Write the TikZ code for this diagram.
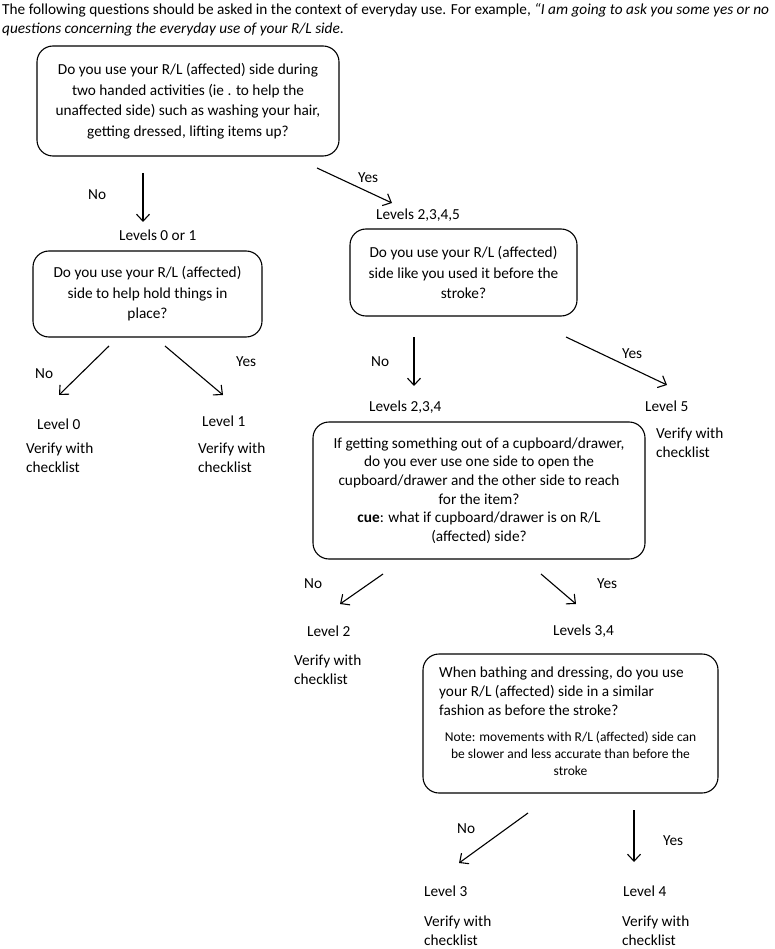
\documentclass[tikz,border=0pt]{standalone}
\usepackage{fontspec}
\setmainfont{Carlito}
\usetikzlibrary{arrows.meta}
\newcommand{\bxfont}{\fontsize{15.3pt}{20.5pt}\selectfont}
\newcommand{\bxfontb}{\fontsize{15.3pt}{18.6pt}\selectfont}
\newcommand{\nofont}{\fontsize{13.5pt}{17pt}\selectfont}
\newcommand{\lbfont}{\fontsize{15.3pt}{19pt}\selectfont}
\tikzset{
  qbox/.style={draw, line width=1.1pt, rounded corners=16pt, align=center, inner sep=0pt},
  lbl/.style={anchor=west, inner sep=0pt, text height=10pt, text depth=0pt, font=\lbfont},
  arr/.style={line width=1.1pt, -{Straight Barb[length=7pt,width=13pt,line width=1.1pt]}}
}
\begin{document}
\begin{tikzpicture}[x=1pt,y=-1pt]
\useasboundingbox (0,0) rectangle (774,949);
% header
\node[anchor=north west, inner sep=0pt, align=left, font=\fontsize{15.3pt}{19.5pt}\selectfont] (hdr) at (2,3)
 {The following questions should be asked in the context of everyday use. For example, \textit{“I am going to ask you some yes or no}\\
  \textit{questions concerning the everyday use of your R/L side}.};
% boxes
\node[qbox, minimum width=302pt, minimum height=110pt, font=\bxfont] (q1) at (188,101)
 {Do you use your R/L (affected) side during\\two handed activities (ie . to help the\\unaffected side) such as washing your hair,\\getting dressed, lifting items up?};
\node[qbox, minimum width=229pt, minimum height=86pt, font=\bxfont] (q2) at (147.5,294)
 {Do you use your R/L (affected)\\side to help hold things in\\place?};
\node[qbox, minimum width=227pt, minimum height=87pt, font=\bxfont] (q3) at (463.5,272.5)
 {Do you use your R/L (affected)\\side like you used it before the\\stroke?};
\node[qbox, minimum width=332pt, minimum height=137pt, font=\bxfontb] (q4) at (479,490.5)
 {If getting something out of a cupboard/drawer,\\do you ever use one side to open the\\cupboard/drawer and the other side to reach\\for the item?\\\textbf{cue}: what if cupboard/drawer is on R/L\\(affected) side?};
\node[qbox, minimum width=295pt, minimum height=139pt] (q5) at (570.5,723.5) {};
\node[anchor=north west, inner sep=0pt, align=left, font=\fontsize{15.3pt}{19pt}\selectfont] (q5a) at (439,667)
 {When bathing and dressing, do you use\\your R/L (affected) side in a similar\\fashion as before the stroke?};
\node[anchor=north, inner sep=0pt, align=center, font=\nofont] (q5b) at (570.5,731)
 {Note: movements with R/L (affected) side can\\be slower and less accurate than before the\\stroke};
% arrow end points
\coordinate (a1s) at (143,173); \coordinate (a1e) at (143,222);
\coordinate (a2s) at (317,168); \coordinate (a2e) at (392,203);
\coordinate (a3s) at (109,346); \coordinate (a3e) at (59,395);
\coordinate (a4s) at (165,346); \coordinate (a4e) at (223,395);
\coordinate (a5s) at (414,337); \coordinate (a5e) at (414,386);
\coordinate (a6s) at (566,337); \coordinate (a6e) at (667,385);
\coordinate (a7s) at (383,574); \coordinate (a7e) at (340,604);
\coordinate (a8s) at (541,574); \coordinate (a8e) at (576,604);
\coordinate (a9s) at (528,813); \coordinate (a9e) at (459,863);
\coordinate (a10s) at (634,810); \coordinate (a10e) at (634,862);
\foreach \i in {1,...,10} {\draw[arr] (a\i s) -- (a\i e);}
% labels
\node[lbl] (n1) at (88,195) {No};
\node[lbl] (y1) at (358,178) {Yes};
\node[lbl] (l01) at (119,236) {Levels 0 or 1};
\node[lbl] (l2345) at (376,215) {Levels 2,3,4,5};
\node[lbl] (n2) at (35,373) {No};
\node[lbl] (y2) at (236,361) {Yes};
\node[lbl] (lv0) at (37,424) {Level 0};
\node[lbl] (v0a) at (26,448) {Verify with};
\node[lbl] (v0b) at (26,467) {checklist};
\node[lbl] (lv1) at (202,421) {Level 1};
\node[lbl] (v1a) at (198,448) {Verify with};
\node[lbl] (v1b) at (198,467) {checklist};
\node[lbl] (n3) at (371,361) {No};
\node[lbl] (y3) at (622,353) {Yes};
\node[lbl] (l234) at (369,406) {Levels 2,3,4};
\node[lbl] (lv5) at (645,406) {Level 5};
\node[lbl] (v5a) at (656,433) {Verify with};
\node[lbl] (v5b) at (656,452) {checklist};
\node[lbl] (n4) at (304,583) {No};
\node[lbl] (y4) at (597,583) {Yes};
\node[lbl] (lv2) at (307,631) {Level 2};
\node[lbl] (v2a) at (294,660) {Verify with};
\node[lbl] (v2b) at (294,679) {checklist};
\node[lbl] (l34) at (553,630) {Levels 3,4};
\node[lbl] (n5) at (457,828) {No};
\node[lbl] (y5) at (663,840) {Yes};
\node[lbl] (lv3) at (424,891) {Level 3};
\node[lbl] (v3a) at (424,921) {Verify with};
\node[lbl] (v3b) at (424,940) {checklist};
\node[lbl] (lv4) at (623,891) {Level 4};
\node[lbl] (v4a) at (622,921) {Verify with};
\node[lbl] (v4b) at (622,940) {checklist};
\end{tikzpicture}
\end{document}
